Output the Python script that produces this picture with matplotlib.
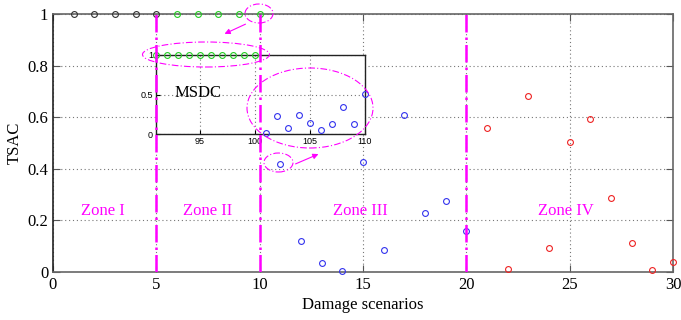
import matplotlib
matplotlib.use("Agg")
import matplotlib.pyplot as plt
from matplotlib.patches import Ellipse

# main chart data
zone1_x = [1, 2, 3, 4, 5]
zone1_y = [1, 1, 1, 1, 1]
zone2_x = [6, 7, 8, 9, 10]
zone2_y = [1, 1, 1, 1, 1]
zone3_x = [11, 12, 13, 14, 15, 16, 17, 18, 19, 20]
zone3_y = [0.42, 0.12, 0.035, 0.003, 0.425, 0.085, 0.61, 0.23, 0.275, 0.16]
zone4_x = [21, 22, 23, 24, 25, 26, 27, 28, 29, 30]
zone4_y = [0.56, 0.012, 0.683, 0.093, 0.505, 0.593, 0.287, 0.113, 0.008, 0.04]

# inset (MSDC) data
msdc_green_x = [91, 92, 93, 94, 95, 96, 97, 98, 99, 100]
msdc_green_y = [1, 1, 1, 1, 1, 1, 1, 1, 1, 1]
msdc_blue_x = [101, 102, 103, 104, 105, 106, 107, 108, 109, 110]
msdc_blue_y = [0.02, 0.23, 0.076, 0.243, 0.146, 0.054, 0.13, 0.34, 0.13, 0.51]

zone_bounds = [5, 10, 20]
zone_labels = ["Zone I", "Zone II", "Zone III", "Zone IV"]
zone_label_x = [2.4, 7.5, 14.85, 24.8]
zone_label_y = 0.235

MAG = "#ff00ff"
serif = ["Liberation Serif", "DejaVu Serif"]
plt.rcParams["font.family"] = serif


def draw():
    fig = plt.figure(figsize=(6.81, 3.2), dpi=100)
    pos = [53 / 681, 1 - 272 / 320, 620 / 681, 258 / 320]
    ax = fig.add_axes(pos)
    mk = dict(linestyle="none", marker="o", markersize=4.2, markerfacecolor="none",
              markeredgewidth=0.8)
    ax.plot(zone1_x, zone1_y, color="#333333", **mk, clip_on=False, zorder=5)
    ax.plot(zone2_x, zone2_y, color="#22cc22", **mk, clip_on=False, zorder=5)
    ax.plot(zone3_x, zone3_y, color="#3333ee", **mk, clip_on=False, zorder=5)
    ax.plot(zone4_x, zone4_y, color="#ee2222", **mk, clip_on=False, zorder=5)
    ax.set_xlim(0, 30)
    ax.set_ylim(0, 1)
    ax.set_xticks(range(0, 31, 5))
    ax.set_yticks([0, 0.2, 0.4, 0.6, 0.8, 1])
    ax.set_yticklabels(["0", "0.2", "0.4", "0.6", "0.8", "1"])
    ax.grid(True, linestyle=(0, (1, 2.5)), color="#777777", linewidth=0.8)
    ax.tick_params(direction="in", length=5, top=True, right=True, labelsize=12,
                   color="#555555")
    for s in ax.spines.values():
        s.set_color("#666666")
        s.set_linewidth(1.2)
    ax.spines["left"].set_color("#222222")
    ax.set_xlabel("Damage scenarios", fontsize=12, labelpad=3)
    ax.set_ylabel("TSAC", fontsize=12, labelpad=3)

    # inset
    ins = fig.add_axes([155.7 / 681, 1 - 134.3 / 320, 209.3 / 681, 79.3 / 320])
    ins.plot(msdc_green_x, msdc_green_y, color="#22cc22", **mk, clip_on=False, zorder=5)
    ins.plot(msdc_blue_x, msdc_blue_y, color="#3333ee", **mk, clip_on=False, zorder=5)
    ins.set_xlim(91, 110)
    ins.set_ylim(0, 1)
    ins.set_xticks([95, 100, 105, 110])
    ins.set_yticks([0, 0.5, 1])
    ins.set_yticklabels(["0", "0.5", "1"])
    ins.grid(True, linestyle=(0, (1, 2.5)), color="#777777", linewidth=0.8)
    ins.tick_params(direction="in", length=3, labelsize=6.5, pad=2)
    for lab in ins.get_xticklabels() + ins.get_yticklabels():
        lab.set_family(["Liberation Sans", "DejaVu Sans"])
    for s in ins.spines.values():
        s.set_color("#222222")
        s.set_linewidth(1.0)
    ins.text(94.8, 0.52, "MSDC", fontsize=12, ha="center", va="center")

    # overlay for zone lines and annotations
    top = fig.add_axes(pos, facecolor="none")
    top.set_xlim(0, 30)
    top.set_ylim(0, 1)
    top.axis("off")
    for b in zone_bounds:
        top.axvline(b, color=MAG, linestyle=(0, (7, 2, 1, 2)), linewidth=1.8)
    for lbl, lx in zip(zone_labels, zone_label_x):
        top.text(lx, zone_label_y, lbl, color=MAG, fontsize=12, ha="center", va="center")

    ell = [(259, 13.5, 28, 19), (206, 54.5, 127, 25), (310, 108, 126, 80), (278.5, 162.5, 29, 19)]
    for cx, cy, w, h in ell:
        e = Ellipse((cx / 681, 1 - cy / 320), w / 681, h / 320, transform=fig.transFigure,
                    fill=False, edgecolor=MAG, linewidth=0.8,
                    linestyle=(0, (6, 2, 1, 2)))
        fig.patches.append(e)
    arrows = [((248, 23), (222, 35)), ((293, 165), (321, 153))]
    for (x0, y0), (x1, y1) in arrows:
        fig.patches.append(matplotlib.patches.FancyArrowPatch(
            (x0 / 681, 1 - y0 / 320), (x1 / 681, 1 - y1 / 320),
            transform=fig.transFigure, arrowstyle="-|>", mutation_scale=8,
            color=MAG, linewidth=0.8))

    fig.savefig("out.png", dpi=100)


def main():
    draw()


if __name__ == "__main__":
    main()
